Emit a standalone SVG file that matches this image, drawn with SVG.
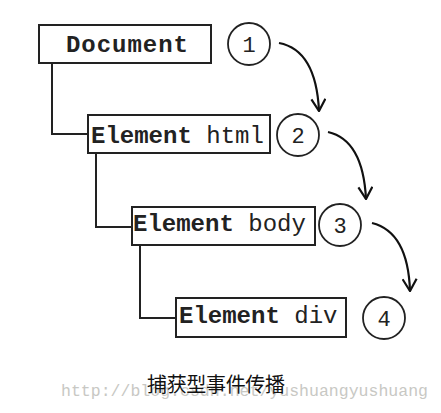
<svg xmlns="http://www.w3.org/2000/svg" width="441" height="413" viewBox="0 0 441 413">
<defs>
<style>
.box{fill:#fff;stroke:#222;stroke-width:2}
.circ{fill:#fff;stroke:#222;stroke-width:1.8}
.conn{fill:none;stroke:#222;stroke-width:2}
.arr{fill:none;stroke:#111;stroke-width:2.2}
.t{font-family:"Liberation Mono",monospace;font-size:24px;fill:#222}
.b{font-weight:bold}
.n{font-family:"Liberation Mono",monospace;font-size:22px;fill:#222;text-anchor:middle}
.cap{font-family:"Liberation Sans","Noto Sans CJK SC",sans-serif;font-size:20px;fill:#111}
.wm{font-family:"Liberation Mono",monospace;font-size:16.5px;fill:#c8c8c4}
</style>
<marker id="ah" viewBox="0 0 14 16" refX="13" refY="8" markerWidth="14" markerHeight="16" markerUnits="userSpaceOnUse" orient="auto">
<path d="M1,1 L13,8 L1,15" fill="none" stroke="#111" stroke-width="2.2"/>
</marker>
</defs>
<rect width="441" height="413" fill="#fff"/>
<g id="connectors">
<path class="conn" d="M52,63 V134 H88"/>
<path class="conn" d="M96,153 V227 H132"/>
<path class="conn" d="M140,245 V318 H176"/>
<path class="arr" d="M279,43 Q316,50 319,111" marker-end="url(#ah)"/>
<path class="arr" d="M328,132 Q363,140 366,199" marker-end="url(#ah)"/>
<path class="arr" d="M372,223 Q408,232 410,291" marker-end="url(#ah)"/>
</g>
<g id="document">
<rect class="box" x="39" y="25" width="172" height="38"/>
<text class="t b" x="66" y="52" textLength="122">Document</text>
</g>
<g id="element-html">
<rect class="box" x="88" y="115" width="182" height="38"/>
<text class="t" x="91" y="143"><tspan class="b">Element</tspan> html</text>
</g>
<g id="element-body">
<rect class="box" x="132" y="207" width="183" height="38"/>
<text class="t" x="133" y="231"><tspan class="b">Element</tspan> body</text>
</g>
<g id="element-div">
<rect class="box" x="176" y="298" width="170" height="39"/>
<text class="t" x="179" y="323"><tspan class="b">Element</tspan> div</text>
</g>
<g id="step1"><circle class="circ" cx="249" cy="44" r="21"/><text class="n" x="249" y="52">1</text></g>
<g id="step2"><circle class="circ" cx="298" cy="135" r="21"/><text class="n" x="298" y="143">2</text></g>
<g id="step3"><circle class="circ" cx="340" cy="225" r="21"/><text class="n" x="340" y="233">3</text></g>
<g id="step4"><circle class="circ" cx="384" cy="318" r="21"/><text class="n" x="384" y="326">4</text></g>
<text class="wm" x="61" y="396" textLength="367">http://blog.csdn.net/yushuangyushuang</text>
<text class="cap" x="147" y="392" textLength="138">捕获型事件传播</text>
</svg>
